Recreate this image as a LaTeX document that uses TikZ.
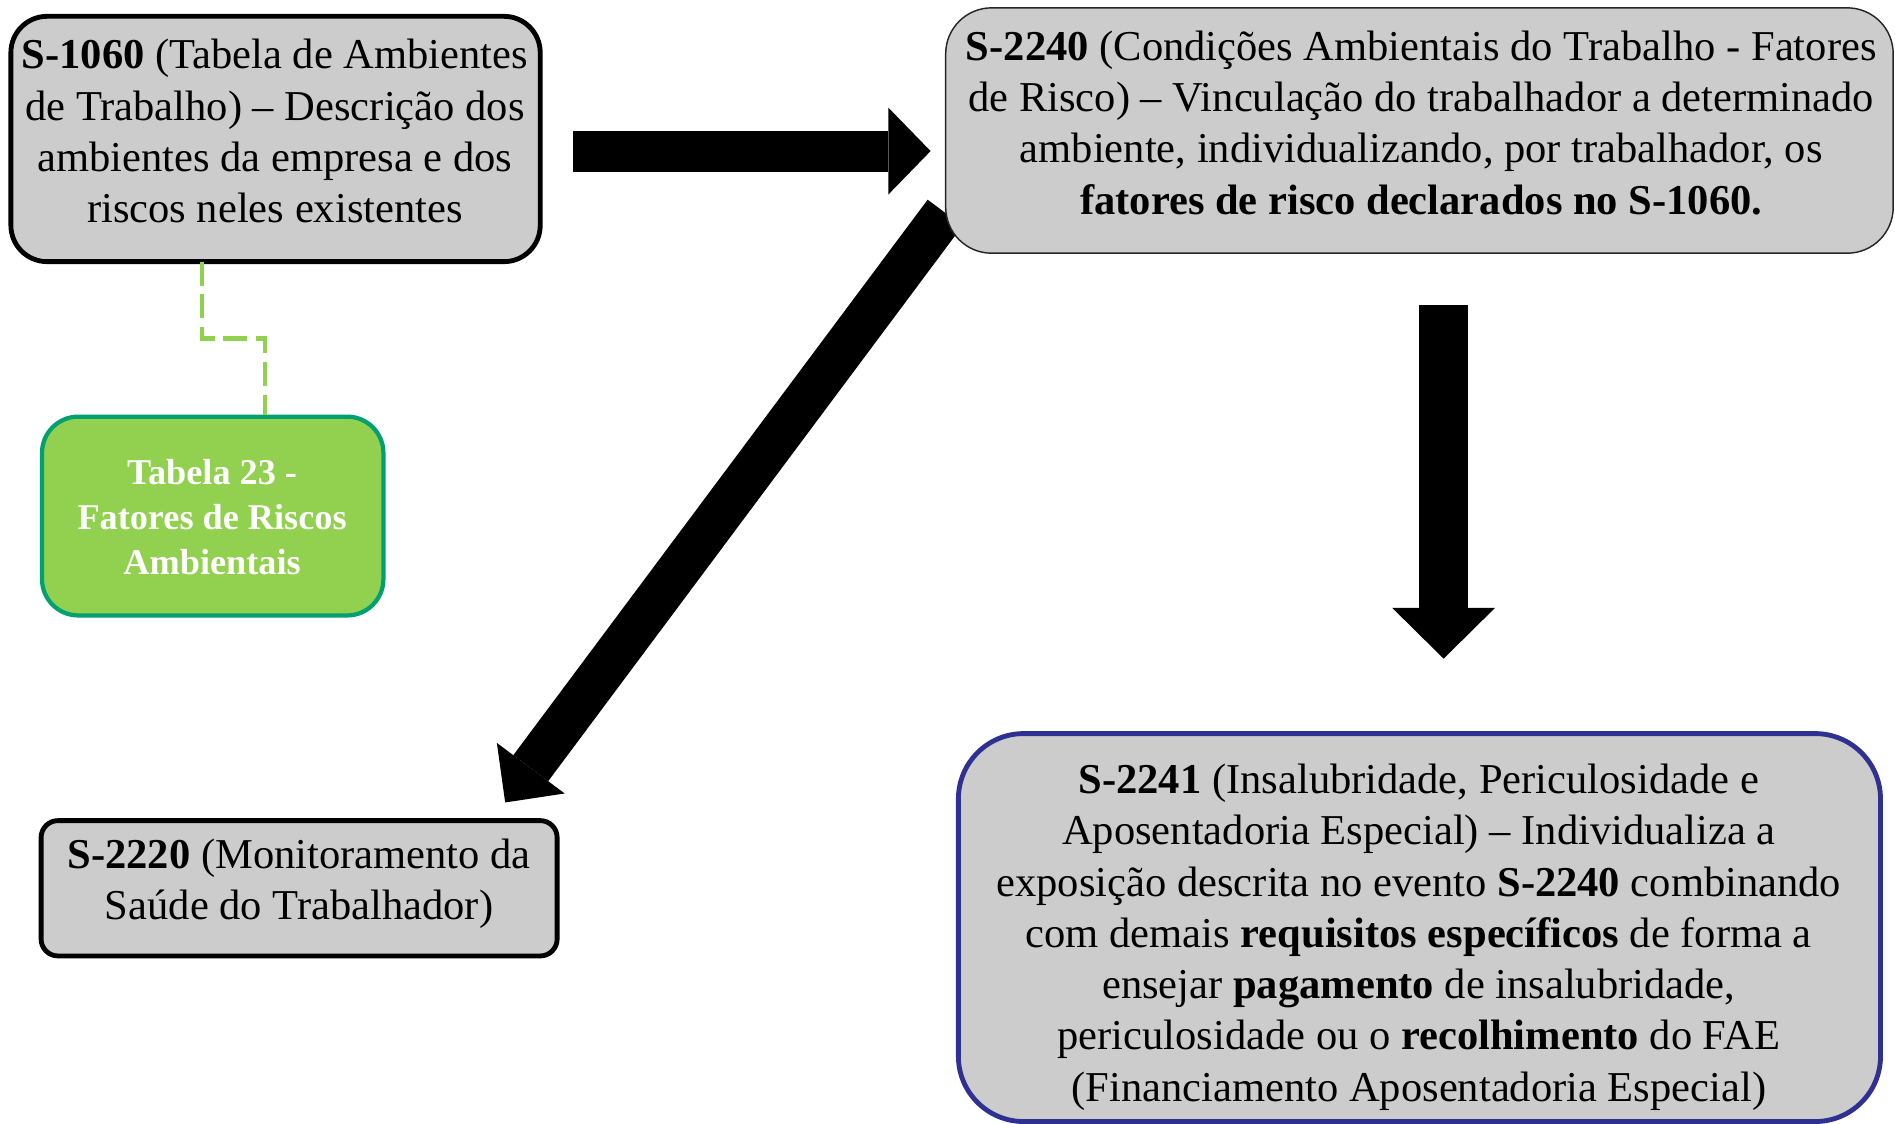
\documentclass[tikz,border=0pt]{standalone}
\usepackage{fontspec}
\setmainfont{Liberation Serif}
\usetikzlibrary{arrows.meta}
\definecolor{boxgray}{HTML}{CCCCCC}
\definecolor{leafgreen}{HTML}{92D050}
\definecolor{tealedge}{HTML}{00A070}
\definecolor{navyedge}{HTML}{2E3192}
\begin{document}
\begin{tikzpicture}[x=0.5pt,y=-0.5pt,
  boxbase/.style={rectangle, fill=boxgray, inner sep=0pt, outer sep=0pt},
  thickbox/.style={boxbase, draw=black, line width=2pt, rounded corners=15pt},
  thinbox/.style={boxbase, draw=black!85, line width=0.6pt, rounded corners=19pt},
  bluebox/.style={boxbase, draw=navyedge, line width=2pt, rounded corners=27pt},
  greenbox/.style={rectangle, fill=leafgreen, draw=tealedge, line width=1.75pt, rounded corners=15pt, inner sep=0pt},
  txt/.style={align=center, inner sep=0pt, font={\fontsize{17.6pt}{21.2pt}\selectfont}},
  gtxt/.style={align=center, inner sep=0pt, text=white, font={\fontsize{15pt}{18.75pt}\selectfont\bfseries}},
  dashlink/.style={draw=leafgreen, line width=1.75pt, dash pattern=on 10pt off 3.5pt},
  bigarrow/.style={draw=black}
]
\useasboundingbox (0,0) rectangle (1568,930);

% arrow end points
\coordinate (ra1) at (474,125);
\coordinate (ra2) at (770,125);
\coordinate (da1) at (1194.5,252);
\coordinate (da2) at (1194.5,545);
\coordinate (ga1) at (782,176);
\coordinate (ga2) at (418,664);

% block arrows (under the boxes)
\draw[bigarrow, line width=17pt, -{Triangle[length=17.5pt,width=36pt,line width=0pt]}] (ra1) -- (ra2);
\draw[bigarrow, line width=20.5pt, -{Triangle[length=21pt,width=42.5pt,line width=0pt]}] (da1) -- (da2);
\draw[bigarrow, line width=18pt, -{Triangle[length=17.7pt,width=35pt,line width=0pt]}] (ga1) -- (ga2);

% boxes
\node[thickbox, minimum width=219pt, minimum height=101.5pt] (s1060) at (228,115) {};
\node[thinbox, minimum width=392pt, minimum height=101.5pt] (s2240) at (1174.5,108) {};
\node[greenbox, minimum width=141.25pt, minimum height=82.25pt] (tab23) at (176,427) {};
\node[thickbox, rounded corners=7pt, minimum width=213.5pt, minimum height=56pt] (s2220) at (247.5,735) {};
\node[bluebox, minimum width=381.5pt, minimum height=160.5pt] (s2241) at (1174.5,767.5) {};

% texts
\node[txt] (s1060t) at (227.5,108.6) {\textbf{S-1060} (Tabela de Ambientes\\de Trabalho) – Descrição dos\\ambientes da empresa e dos\\riscos neles existentes};
\node[txt] (s2240t) at (1176,101.6) {\textbf{S-2240} (Condições Ambientais do Trabalho - Fatores\\de Risco) – Vinculação do trabalhador a determinado\\ambiente, individualizando, por trabalhador, os\\\textbf{fatores de risco declarados no S-1060.}};
\node[gtxt] (tab23t) at (175.5,428) {Tabela 23 -\\Fatores de Riscos\\Ambientais};
\node[txt] (s2220t) at (247.5,731) {\textbf{S-2220} (Monitoramento da\\Saúde do Trabalhador)};
\node[txt] (s2241t) at (1174,775.5) {\textbf{S-2241} (Insalubridade, Periculosidade e\\Aposentadoria Especial) – Individualiza a\\exposição descrita no evento \textbf{S-2240} combinando\\com demais \textbf{requisitos específicos} de forma a\\ensejar \textbf{pagamento} de insalubridade,\\periculosidade ou o \textbf{recolhimento} do FAE\\(Financiamento Aposentadoria Especial)};

% dashed link
\coordinate (dk1) at (167,280);
\coordinate (dk2) at (219,280);
\draw[dashlink] (s1060.south -| dk1) -- (dk1) -- (dk2) -- (tab23.north -| dk2);
\end{tikzpicture}
\end{document}
